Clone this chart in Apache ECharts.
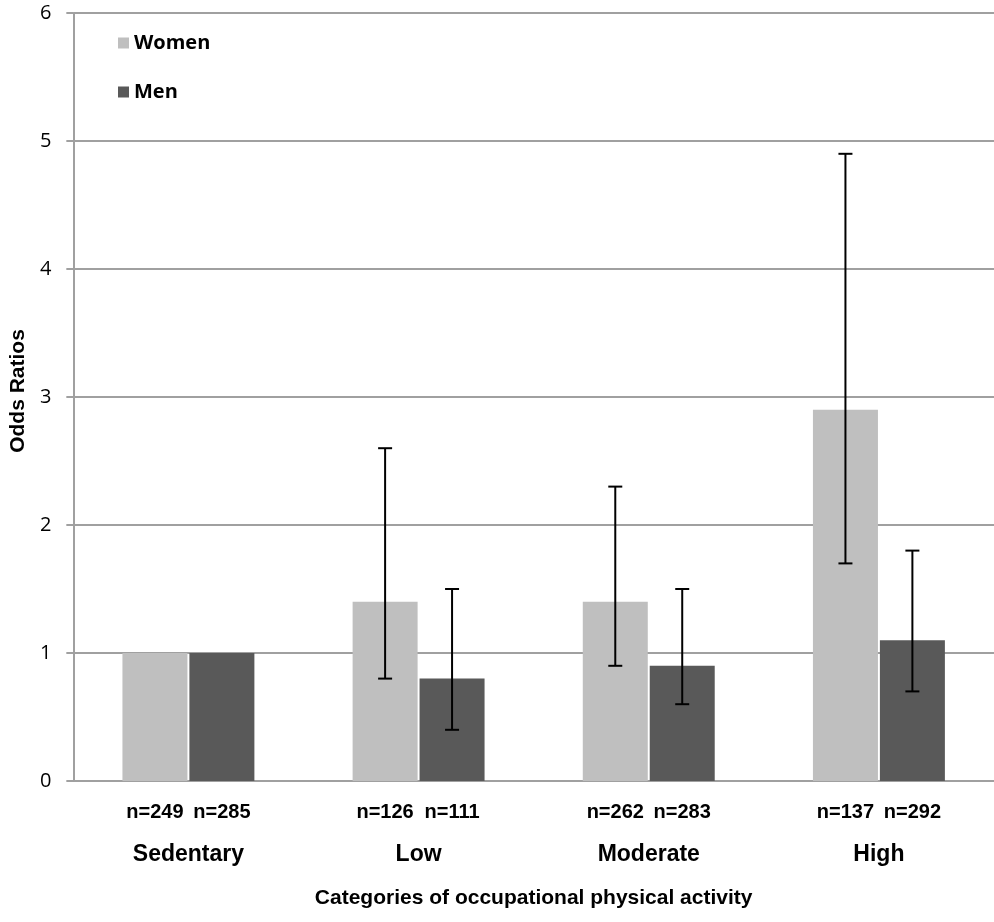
<!DOCTYPE html>
<html>
<head>
<meta charset="utf-8">
<script src="https://cdn.jsdelivr.net/npm/echarts@6/dist/echarts.min.js"></script>
<style>
  html, body { margin: 0; padding: 0; background: #fff; }
  #chart { width: 994px; height: 922px; }
</style>
</head>
<body>
<div id="chart"></div>
<script>
// ---- Data ----
const categories = ['Sedentary', 'Low', 'Moderate', 'High'];
const womenOR = [1, 1.4, 1.4, 2.9];
const menOR = [1, 0.8, 0.9, 1.1];
const womenCILow = [null, 0.8, 0.9, 1.7];
const womenCIHigh = [null, 2.6, 2.3, 4.9];
const menCILow = [null, 0.4, 0.6, 0.7];
const menCIHigh = [null, 1.5, 1.5, 1.8];
const womenN = [249, 126, 262, 137];
const menN = [285, 111, 283, 292];
const yMin = 0, yMax = 6, yInterval = 1;

// ---- Style constants ----
const BAR_W = 65;
const BAR_GAP_PCT = 3;
const HALF_OFFSET = (BAR_W + BAR_W * BAR_GAP_PCT / 100) / 2;
const ARIAL = 'Liberation Sans, Arial, sans-serif';
const CALIBRI = 'Open Sans, sans-serif';
const GRID_COLOR = '#a0a0a0';

function ciData(low, high) {
  const out = [];
  categories.forEach((c, i) => {
    if (low[i] != null && high[i] != null) out.push([i, low[i], high[i]]);
  });
  return out;
}

function errRender(offset) {
  return function (params, api) {
    const idx = api.value(0);
    const lo = api.coord([idx, api.value(1)]);
    const hi = api.coord([idx, api.value(2)]);
    const x = lo[0] + offset;
    const cap = 7;
    const style = { stroke: '#000', lineWidth: 2 };
    return {
      type: 'group',
      children: [
        { type: 'line', shape: { x1: x, y1: hi[1], x2: x, y2: lo[1] }, style },
        { type: 'line', shape: { x1: x - cap, y1: hi[1], x2: x + cap, y2: hi[1] }, style },
        { type: 'line', shape: { x1: x - cap, y1: lo[1], x2: x + cap, y2: lo[1] }, style }
      ]
    };
  };
}

const nLabel = (arr) => ({
  show: true,
  position: 'bottom',
  distance: 21,
  formatter: (p) => 'n=' + arr[p.dataIndex],
  fontFamily: ARIAL,
  fontWeight: 'bold',
  fontSize: 20,
  color: '#000'
});

const chart = echarts.init(document.getElementById('chart'), null, { renderer: 'canvas' });
chart.setOption({
  animation: false,
  backgroundColor: '#fff',
  grid: { left: 72, right: 0, top: 13, bottom: 141, containLabel: false },
  legend: {
    data: ['Women', 'Men'],
    orient: 'vertical',
    left: 113,
    top: 28,
    icon: 'rect',
    itemWidth: 11,
    itemHeight: 11,
    itemGap: 29,
    textStyle: { fontFamily: CALIBRI, fontWeight: 'bold', fontSize: 20, color: '#000' }
  },
  xAxis: {
    type: 'category',
    data: categories,
    axisTick: { show: false },
    axisLine: { lineStyle: { color: GRID_COLOR, width: 2 } },
    axisLabel: {
      margin: 62,
      fontFamily: ARIAL,
      fontWeight: 'bold',
      fontSize: 23,
      color: '#000'
    },
    name: 'Categories of occupational physical activity',
    nameLocation: 'middle',
    nameGap: 107,
    nameTextStyle: { fontFamily: ARIAL, fontWeight: 'bold', fontSize: 21, color: '#000' }
  },
  yAxis: {
    type: 'value',
    min: yMin,
    max: yMax,
    interval: yInterval,
    axisLine: { show: true, lineStyle: { color: GRID_COLOR, width: 2 } },
    axisTick: { show: true, length: 7, lineStyle: { color: GRID_COLOR, width: 2 } },
    splitLine: { lineStyle: { color: GRID_COLOR, width: 2 } },
    axisLabel: { margin: 22, fontFamily: CALIBRI, fontSize: 20, color: '#000' },
    name: 'Odds Ratios',
    nameLocation: 'middle',
    nameGap: 44,
    nameTextStyle: { fontFamily: ARIAL, fontWeight: 'bold', fontSize: 21, color: '#000', padding: [0, 0, 0, 12] }
  },
  series: [
    {
      name: 'Women',
      type: 'bar',
      data: womenOR,
      barWidth: BAR_W,
      barGap: BAR_GAP_PCT + '%',
      itemStyle: { color: '#bfbfbf' },
      label: nLabel(womenN),
      z: 2
    },
    {
      name: 'Men',
      type: 'bar',
      data: menOR,
      barWidth: BAR_W,
      barGap: BAR_GAP_PCT + '%',
      itemStyle: { color: '#595959' },
      label: nLabel(menN),
      z: 2
    },
    {
      name: 'Women CI',
      type: 'custom',
      data: ciData(womenCILow, womenCIHigh),
      renderItem: errRender(-HALF_OFFSET),
      encode: { x: 0, y: [1, 2] },
      z: 5,
      silent: true
    },
    {
      name: 'Men CI',
      type: 'custom',
      data: ciData(menCILow, menCIHigh),
      renderItem: errRender(HALF_OFFSET),
      encode: { x: 0, y: [1, 2] },
      z: 5,
      silent: true
    }
  ]
});
</script>
</body>
</html>
